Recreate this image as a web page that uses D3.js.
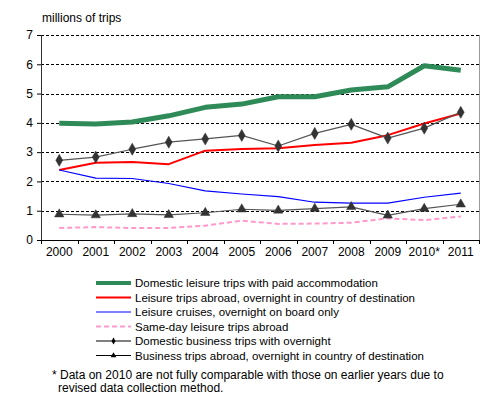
<!DOCTYPE html>
<html lang="en">
<head>
  <meta charset="UTF-8">
  <script src="https://d3js.org/d3.v7.min.js"></script>
  <style>
    body { margin: 0; background: #fff; }
    text { font-family: "Liberation Sans", Arial, sans-serif; fill: #000; }
    .grid line { stroke: #000; stroke-width: 1px; stroke-dasharray: 3,2; }
  </style>
</head>
<body>
<svg id="chart" width="492" height="413"></svg>
<script>
  // data (millions of trips)
  const years = ["2000","2001","2002","2003","2004","2005","2006","2007","2008","2009","2010*","2011"];
  const domesticLeisure = [3.99, 3.96, 4.03, 4.24, 4.53, 4.64, 4.89, 4.89, 5.12, 5.23, 5.95, 5.80];
  const leisureAbroad   = [2.39, 2.64, 2.66, 2.59, 3.05, 3.11, 3.13, 3.24, 3.32, 3.58, 3.98, 4.32];
  const leisureCruises  = [2.39, 2.11, 2.10, 1.93, 1.68, 1.57, 1.48, 1.29, 1.26, 1.26, 1.46, 1.60];
  const sameDayAbroad   = [0.41, 0.44, 0.41, 0.41, 0.49, 0.66, 0.55, 0.56, 0.59, 0.74, 0.68, 0.80];
  const domesticBiz     = [2.72, 2.83, 3.10, 3.34, 3.45, 3.57, 3.21, 3.64, 3.95, 3.48, 3.82, 4.36];
  const bizAbroad       = [0.88, 0.85, 0.89, 0.86, 0.93, 1.05, 1.01, 1.07, 1.13, 0.84, 1.07, 1.22];
  const yTicks = [0, 1, 2, 3, 4, 5, 6, 7];

  const series = [
    { name: "Domestic leisure trips with paid accommodation", values: domesticLeisure, color: "#2e8b57", width: 5, dash: null, marker: null },
    { name: "Leisure trips abroad, overnight in country of destination", values: leisureAbroad, color: "#ff0000", width: 2, dash: null, marker: null },
    { name: "Leisure cruises, overnight on board only", values: leisureCruises, color: "#0000ff", width: 1.2, dash: null, marker: null },
    { name: "Same-day leisure trips abroad", values: sameDayAbroad, color: "#ff99cc", width: 2, dash: "5,3", marker: null },
    { name: "Domestic business trips with overnight", values: domesticBiz, color: "#555", width: 1.2, dash: null, marker: "diamond" },
    { name: "Business trips abroad, overnight in country of destination", values: bizAbroad, color: "#555", width: 1.2, dash: null, marker: "triangle" }
  ];

  const svg = d3.select("#chart");
  const margin = { top: 35, right: 13, bottom: 173, left: 41 };
  const plotW = 492 - margin.left - margin.right;
  const plotH = 413 - margin.top - margin.bottom;
  const g = svg.append("g").attr("transform", "translate(" + margin.left + "," + margin.top + ")");

  const x = d3.scaleBand().domain(years).range([0, plotW]);
  const y = d3.scaleLinear().domain([0, 7]).range([plotH, 0]);

  svg.append("text").attr("x", 42).attr("y", 22).style("font-size", "12px").text("millions of trips");

  // dashed gridlines
  g.append("g").attr("class", "grid")
    .selectAll("line").data(yTicks.filter(d => d > 0)).join("line")
    .attr("x1", 0).attr("x2", plotW)
    .attr("y1", d => Math.round(y(d)) + 0.5).attr("y2", d => Math.round(y(d)) + 0.5);

  // right border
  g.append("line").attr("x1", plotW + 0.5).attr("x2", plotW + 0.5).attr("y1", 0).attr("y2", plotH)
    .attr("stroke", "#999");

  // y axis
  const yAxis = g.append("g").call(d3.axisLeft(y).tickValues(yTicks).tickSize(4).tickFormat(d3.format("d")));
  yAxis.select(".domain").attr("stroke", "#333");
  yAxis.selectAll("text").style("font-size", "12px").attr("x", -8);

  // x axis with ticks between categories
  const xAxis = g.append("g").attr("transform", "translate(0," + plotH + ")")
    .call(d3.axisBottom(x).tickSize(0).tickPadding(7));
  xAxis.select(".domain").attr("stroke", "#000");
  xAxis.selectAll("text").style("font-size", "12px");
  xAxis.selectAll("line.sep").data(d3.range(years.length + 1)).join("line")
    .attr("class", "sep")
    .attr("x1", i => Math.round(i * x.bandwidth()) + 0.5).attr("x2", i => Math.round(i * x.bandwidth()) + 0.5)
    .attr("y1", 0).attr("y2", 4).attr("stroke", "#000");

  const line = d3.line().x((d, i) => x(years[i]) + x.bandwidth() / 2).y(d => y(d));

  series.forEach(s => {
    g.append("path").datum(s.values)
      .attr("fill", "none").attr("stroke", s.color).attr("stroke-width", s.width)
      .attr("stroke-dasharray", s.dash).attr("stroke-linejoin", "round")
      .attr("d", line);
    if (s.marker) {
      const sym = s.marker === "diamond" ? d3.symbolDiamond : d3.symbolTriangle;
      g.selectAll(null).data(s.values).join("path")
        .attr("transform", (d, i) => "translate(" + (x(years[i]) + x.bandwidth() / 2) + "," + y(d) + ")")
        .attr("d", d3.symbol(sym, s.marker === "diamond" ? 42 : 38))
        .attr("fill", "#333").attr("stroke", "#333").attr("stroke-width", 0.5);
    }
  });

  // legend
  const legend = svg.append("g").attr("transform", "translate(96,283)");
  const rows = legend.selectAll("g").data(series).join("g")
    .attr("transform", (d, i) => "translate(0," + (i * 14.5) + ")");
  rows.append("line").attr("x1", 0).attr("x2", 35).attr("y1", 0).attr("y2", 0)
    .attr("stroke", d => d.marker ? "#000" : d.color)
    .attr("stroke-width", d => d.marker ? 1 : Math.min(d.width, 4))
    .attr("stroke-dasharray", d => d.dash);
  rows.filter(d => d.marker).append("path")
    .attr("transform", "translate(17.5,0)")
    .attr("d", d => d3.symbol(d.marker === "diamond" ? d3.symbolDiamond : d3.symbolTriangle, 14)())
    .attr("fill", "#000");
  rows.append("text").attr("x", 39).attr("y", 4).style("font-size", "11.5px").text(d => d.name);

  const note = svg.append("g").attr("transform", "translate(52,379)");
  note.append("text").attr("x", 0).attr("y", 0).style("font-size", "12px").text("* Data on 2010 are not fully comparable with those on earlier years due to");
  note.append("text").attr("x", 6).attr("y", 13).style("font-size", "12px").text("revised data collection method.");
</script>
</body>
</html>
